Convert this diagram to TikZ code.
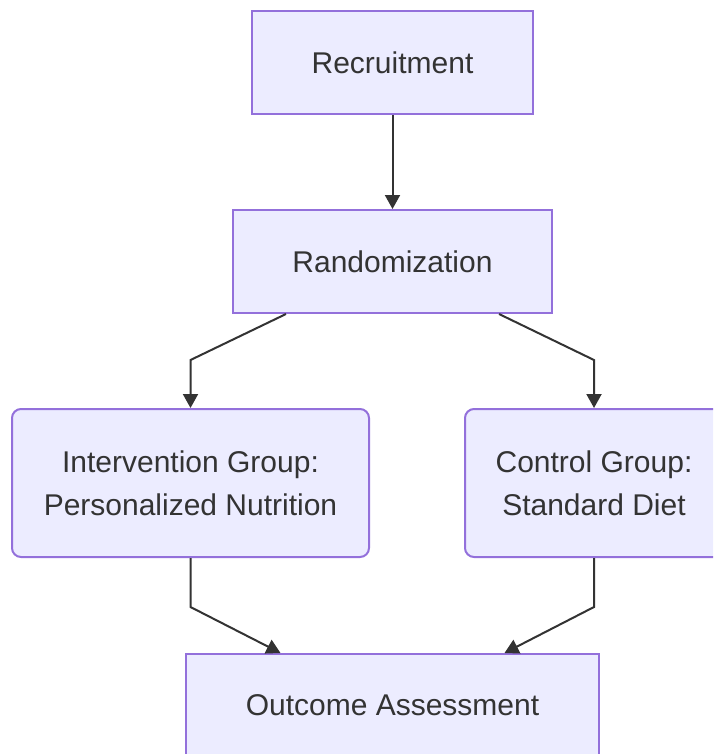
\documentclass[tikz,border=0pt]{standalone}
\usepackage{fontspec}
\setmainfont{Liberation Sans}
\usetikzlibrary{arrows.meta,positioning}
\definecolor{boxfill}{HTML}{ECECFF}
\definecolor{boxline}{HTML}{9370DB}
\definecolor{ink}{HTML}{333333}

\begin{document}
\begin{tikzpicture}[x=1pt, y=1pt, >={Triangle[length=14pt,width=15pt]},
  every node/.style={font=\fontsize{30}{43}\selectfont, text=ink},
  stage/.style={draw=boxline, fill=boxfill, line width=2pt, align=center, inner sep=0pt},
  group/.style={stage, rounded corners=9pt, minimum height=148pt},
  flow/.style={->, draw=ink, line width=2pt}]
  \useasboundingbox (0,0) rectangle (713,-754);
  \clip (0,0) rectangle (713,-754);

  \node[stage, minimum width=281pt, minimum height=103pt] (recruit) at (392.5,-62.5) {Recruitment};
  \node[stage, minimum width=319pt, minimum height=103pt] (random) at (392.5,-261.5) {Randomization};
  \node[group, minimum width=357pt] (interv) at (190.5,-483) {Intervention Group:\\Personalized Nutrition};
  \node[group, minimum width=258pt] (control) at (594,-483) {Control Group:\\Standard Diet};
  \node[stage, minimum width=413pt, minimum height=103pt] (outcome) at (392.5,-705.5) {Outcome Assessment};

  \draw[flow] (recruit) -- (random);
  \draw[flow] ([xshift=-106.5pt]random.south) -- ([yshift=48pt]interv.north) -- (interv.north);
  \draw[flow] ([xshift=106.5pt]random.south) -- ([yshift=48pt]control.north) -- (control.north);
  \draw[flow] (interv.south) -- ([yshift=-49pt]interv.south) -- ([xshift=-112pt]outcome.north);
  \draw[flow] (control.south) -- ([yshift=-49pt]control.south) -- ([xshift=112pt]outcome.north);
\end{tikzpicture}
\end{document}
